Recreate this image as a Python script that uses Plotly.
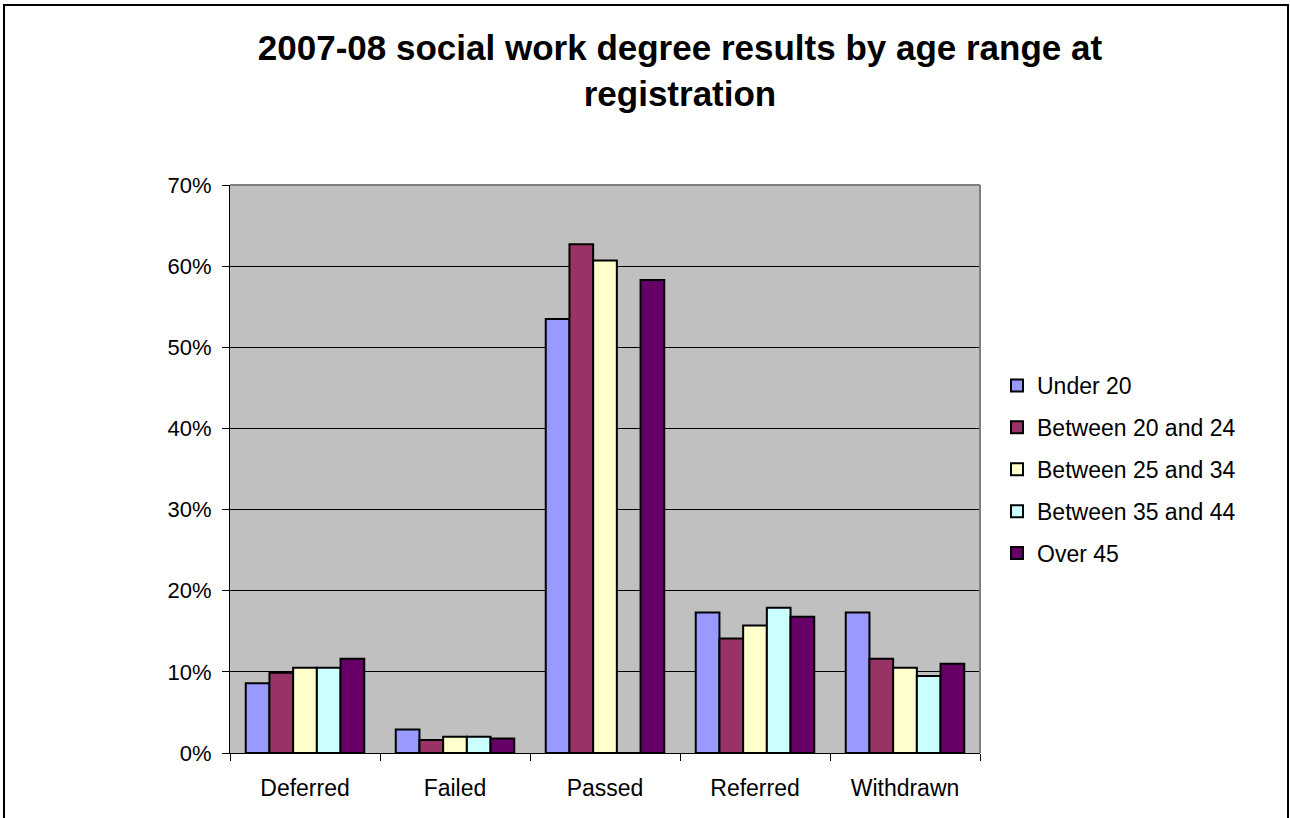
import plotly.graph_objects as go

# Result categories and age-range series (share of students, 0-1)
categories = ["Deferred", "Failed", "Passed", "Referred", "Withdrawn"]
age_ranges = ["Under 20", "Between 20 and 24", "Between 25 and 34",
              "Between 35 and 44", "Over 45"]

under_20 = [0.086, 0.029, 0.535, 0.173, 0.173]
between_20_24 = [0.099, 0.016, 0.627, 0.141, 0.116]
between_25_34 = [0.105, 0.020, 0.607, 0.157, 0.105]
between_35_44 = [0.105, 0.020, 0.0, 0.179, 0.095]
over_45 = [0.116, 0.018, 0.583, 0.168, 0.110]

series_values = [under_20, between_20_24, between_25_34, between_35_44, over_45]
colors = ["#9999FF", "#993366", "#FFFFCC", "#CCFFFF", "#660066"]

FONT = "Liberation Sans, Arial, sans-serif"
W, H = 1290, 818
ML, MR, MT, MB = 230, 310, 185, 65
PW, PH = W - ML - MR, H - MT - MB


def px_x(x):
    return (x - ML) / PW


def px_y(y):
    return (H - MB - y) / PH


fig = go.Figure()
for i, (name, vals, col) in enumerate(zip(age_ranges, series_values, colors)):
    fig.add_trace(go.Bar(
        x=categories, y=vals, name=name, legendgroup=f"g{i}",
        marker=dict(color=col, line=dict(color="black", width=2)),
    ))

fig.update_layout(
    width=W, height=H,
    margin=dict(l=ML, r=MR, t=MT, b=MB),
    paper_bgcolor="white",
    plot_bgcolor="#C0C0C0",
    barmode="group", bargap=0.21, bargroupgap=0,
    font=dict(family=FONT, size=22, color="black"),
    title=dict(
        text="<b>2007-08 social work degree results by age range at<br>registration</b>",
        font=dict(family=FONT, size=35, color="black"),
        x=680 / W, xref="container", xanchor="center",
        y=1 - 60 / H, yref="container", yanchor="middle",
    ),
    legend=dict(
        x=px_x(997), y=px_y(364), xanchor="left", yanchor="top",
        font=dict(family=FONT, size=23),
        bgcolor="rgba(0,0,0,0)",
        traceorder="grouped", tracegroupgap=9,
    ),
    showlegend=True,
)

fig.update_xaxes(
    showline=True, linecolor="black", linewidth=1,
    ticks="outside", ticklen=7, tickcolor="black", tickson="boundaries",
    showgrid=False, ticklabelstandoff=14,
    tickfont=dict(family=FONT, size=23),
)
fig.update_yaxes(
    range=[0, 0.7], dtick=0.1, tickformat=".0%",
    showline=True, linecolor="black", linewidth=1,
    ticks="outside", ticklen=7, tickcolor="black",
    showgrid=True, gridcolor="black", gridwidth=1,
    zeroline=False, ticklabelstandoff=6,
    tickfont=dict(family=FONT, size=22),
)

# Gray frame on the top and right of the plotting area
fig.add_shape(type="line", xref="paper", yref="paper", x0=0, x1=1, y0=1, y1=1,
              line=dict(color="#808080", width=2), layer="above")
fig.add_shape(type="line", xref="paper", yref="paper", x0=1, x1=1, y0=0, y1=1,
              line=dict(color="#808080", width=2), layer="above")

# Outer chart border
fig.add_shape(type="rect", xref="paper", yref="paper",
              x0=px_x(4), x1=px_x(1288), y0=px_y(835), y1=px_y(5),
              line=dict(color="black", width=2), layer="above")

fig.write_html("out.html")
